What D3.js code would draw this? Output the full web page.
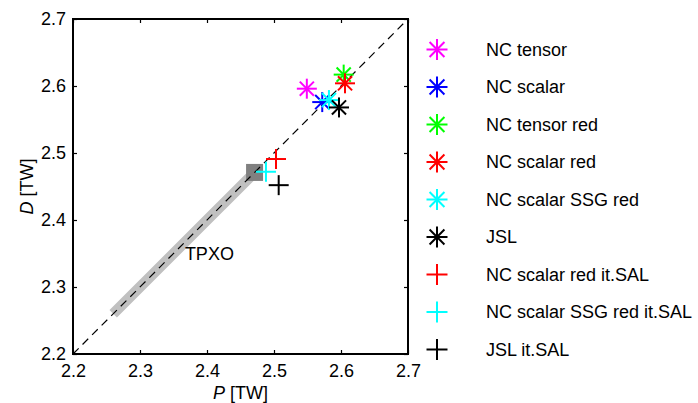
<!DOCTYPE html>
<html>
<head>
<meta charset="utf-8">
<script src="https://cdn.jsdelivr.net/npm/d3@7"></script>
<style>
html,body{margin:0;padding:0;background:#fff;}
svg{display:block;font-family:"Liberation Sans",Arial,Helvetica,sans-serif;}
</style>
</head>
<body>
<svg id="chart" width="698" height="403"></svg>
<script>
// ---- data ----
const seriesNames = ["NC tensor","NC scalar","NC tensor red","NC scalar red","NC scalar SSG red","JSL",
  "NC scalar red it.SAL","NC scalar SSG red it.SAL","JSL it.SAL"];
const pValues = [2.549, 2.572, 2.604, 2.606, 2.582, 2.597, 2.503, 2.488, 2.507];
const dValues = [2.596, 2.576, 2.617, 2.604, 2.579, 2.568, 2.491, 2.472, 2.452];
const seriesColors = ["#ff00ff","#0000ff","#00ff00","#ff0000","#00ffff","#000000","#ff0000","#00ffff","#000000"];
const seriesMarkers = ["star","star","star","star","star","star","plus","plus","plus"];
const tpxoBand = [[2.26, 2.26], [2.471, 2.471]];
const tpxoPoint = [2.471, 2.471];
const tpxoLabel = {text: "TPXO", p: 2.367, d: 2.349};
const diagonal = [[2.2, 2.2], [2.7, 2.7]];
const tickValues = [2.2, 2.3, 2.4, 2.5, 2.6, 2.7];
const tickLabels = ["2.2","2.3","2.4","2.5","2.6","2.7"];

// ---- layout ----
const svg = d3.select("#chart");
const L = 73, T = 19, S = 335;
const x = d3.scaleLinear().domain([2.2, 2.7]).range([L, L + S]);
const y = d3.scaleLinear().domain([2.2, 2.7]).range([T + S, T]);
const FS = 18;

// band
svg.append("line")
  .attr("x1", x(tpxoBand[0][0])).attr("y1", y(tpxoBand[0][1]))
  .attr("x2", x(tpxoBand[1][0])).attr("y2", y(tpxoBand[1][1]))
  .attr("stroke", "#c0c0c0").attr("stroke-width", 10.5);
// square
svg.append("rect")
  .attr("x", x(tpxoPoint[0]) - 8.5).attr("y", y(tpxoPoint[1]) - 8.5)
  .attr("width", 17).attr("height", 17).attr("fill", "#808080");
// dashed diagonal
svg.append("line")
  .attr("x1", x(diagonal[0][0])).attr("y1", y(diagonal[0][1]))
  .attr("x2", x(diagonal[1][0])).attr("y2", y(diagonal[1][1]))
  .attr("stroke", "#000").attr("stroke-width", 1.2)
  .attr("stroke-dasharray", "8,5.5");
// TPXO label
svg.append("text").attr("x", x(tpxoLabel.p)).attr("y", y(tpxoLabel.d))
  .attr("dy", "0.35em").attr("font-size", FS).attr("fill", "#000").text(tpxoLabel.text);

function drawMarker(g, type, cx, cy, color, r) {
  const angles = type === "star" ? [0, 45, 90, 135] : [0, 90];
  angles.forEach(a => {
    const rad = a * Math.PI / 180;
    const dx = Math.cos(rad) * r, dy = Math.sin(rad) * r;
    g.append("line")
      .attr("x1", cx - dx).attr("y1", cy - dy)
      .attr("x2", cx + dx).attr("y2", cy + dy)
      .attr("stroke", color).attr("stroke-width", 2);
  });
}

const marks = svg.append("g");
seriesNames.forEach((n, i) => {
  drawMarker(marks, seriesMarkers[i], x(pValues[i]), y(dValues[i]), seriesColors[i], 10);
});

// axes
const fmt = (d) => tickLabels[tickValues.indexOf(d)] || "";
const gB = svg.append("g").attr("transform", `translate(0,${T + S})`)
  .call(d3.axisBottom(x).tickValues(tickValues).tickFormat(fmt).tickSizeInner(-4).tickSizeOuter(0).tickPadding(10));
const gL = svg.append("g").attr("transform", `translate(${L},0)`)
  .call(d3.axisLeft(y).tickValues(tickValues).tickFormat(fmt).tickSizeInner(-4).tickSizeOuter(0).tickPadding(7));
const gT = svg.append("g").attr("transform", `translate(0,${T})`)
  .call(d3.axisTop(x).tickValues(tickValues).tickFormat("").tickSizeInner(-4).tickSizeOuter(0));
const gR = svg.append("g").attr("transform", `translate(${L + S},0)`)
  .call(d3.axisRight(y).tickValues(tickValues).tickFormat("").tickSizeInner(-4).tickSizeOuter(0));
[gB, gL, gT, gR].forEach(g => {
  g.select(".domain").remove();
  g.selectAll("line").attr("stroke", "#000").attr("stroke-width", 1.2);
  g.selectAll("text").attr("font-size", FS).attr("fill", "#000")
    .attr("font-family", "'Liberation Sans',Arial,sans-serif");
});
svg.append("rect").attr("x", L).attr("y", T).attr("width", S).attr("height", S)
  .attr("fill", "none").attr("stroke", "#000").attr("stroke-width", 2);

// axis labels
const xl = svg.append("text").attr("x", L + S / 2).attr("y", 399)
  .attr("text-anchor", "middle").attr("font-size", FS);
xl.append("tspan").attr("font-style", "italic").text("P");
xl.append("tspan").text(" [TW]");
const yl = svg.append("text").attr("transform", `translate(33,${T + S / 2}) rotate(-90)`)
  .attr("text-anchor", "middle").attr("font-size", FS);
yl.append("tspan").attr("font-style", "italic").text("D");
yl.append("tspan").text(" [TW]");

// legend
const leg = svg.append("g");
seriesNames.forEach((n, i) => {
  const cy = 49.5 + i * 37.5;
  drawMarker(leg, seriesMarkers[i], 437, cy, seriesColors[i], 10.5);
  leg.append("text").attr("x", 486).attr("y", cy).attr("dy", "0.35em")
    .attr("font-size", FS).attr("fill", "#000").text(n);
});
</script>
</body>
</html>
